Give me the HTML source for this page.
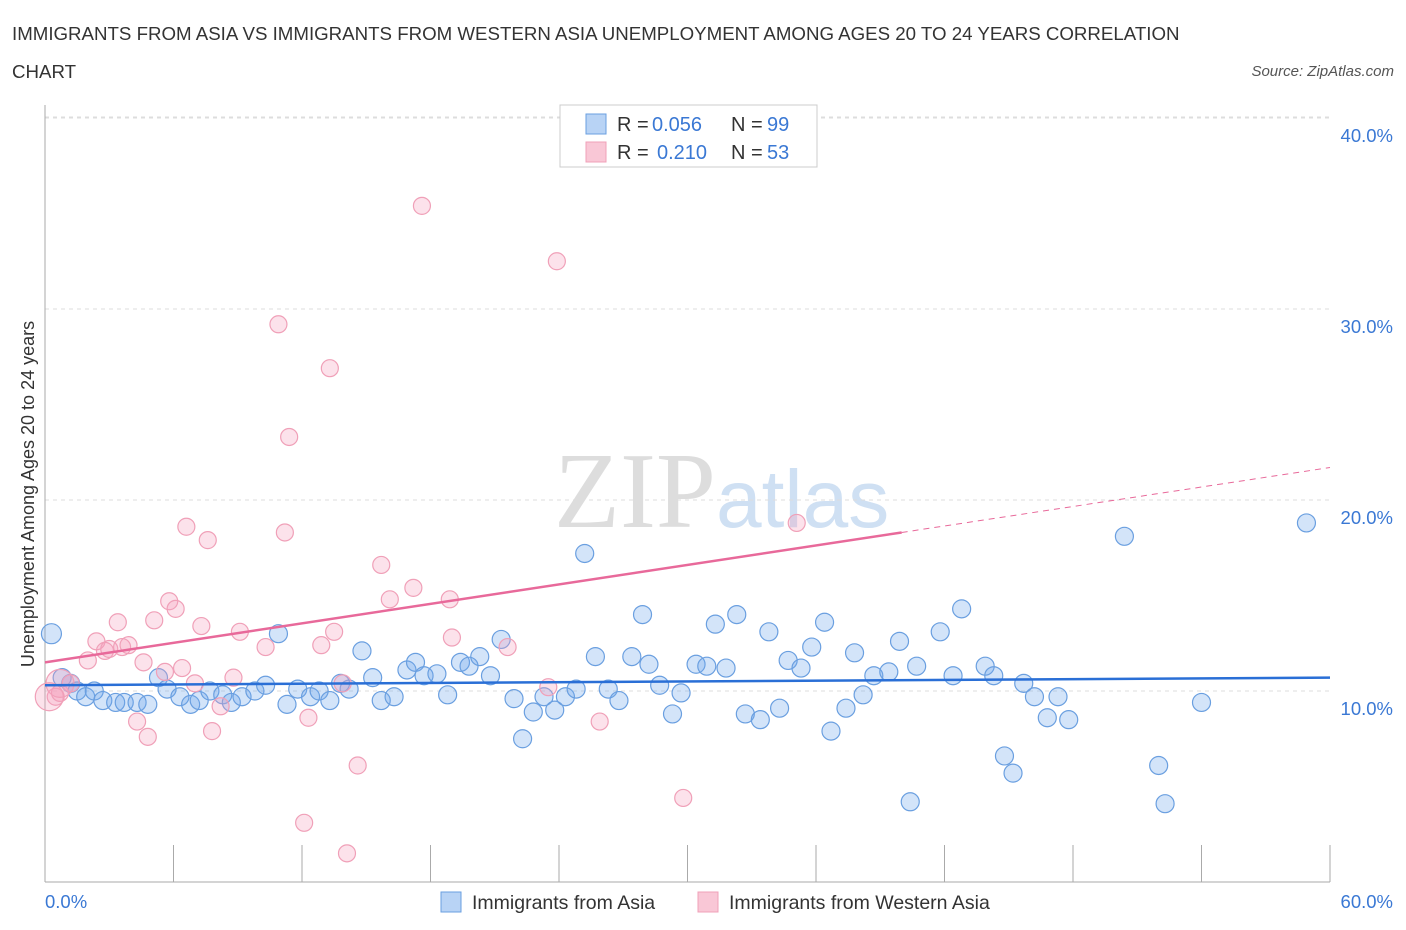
<!DOCTYPE html>
<html><head><meta charset="utf-8"><style>
body{margin:0;background:#fff;font-family:"Liberation Sans",sans-serif}
</style></head><body>
<svg width="1406" height="930" style="display:block">
<text x="12" y="40" font-size="18.7" fill="#333">IMMIGRANTS FROM ASIA VS IMMIGRANTS FROM WESTERN ASIA UNEMPLOYMENT AMONG AGES 20 TO 24 YEARS CORRELATION</text>
<text x="12" y="78" font-size="18.7" fill="#333">CHART</text>
<text x="1394" y="76" font-size="15" fill="#555" font-style="italic" text-anchor="end">Source: ZipAtlas.com</text>
<text x="716" y="527" font-size="108" fill="#ddd" text-anchor="end" font-family="Liberation Serif">ZIP</text>
<text x="716" y="527" font-size="82" fill="#cfe0f3">atlas</text>
<g id="grid"></g>
<g id="marks"></g>
<text transform="translate(34,494) rotate(-90)" font-size="18" fill="#333" text-anchor="middle">Unemployment Among Ages 20 to 24 years</text>
<text x="45" y="908" font-size="18.5" fill="#3a78d4">0.0%</text>
<text x="1393" y="908" font-size="18.5" fill="#3a78d4" text-anchor="end">60.0%</text>
<g>
<rect x="560" y="105" width="257" height="62" fill="#fff" stroke="#ccc"/>
<rect x="586" y="114" width="20" height="20" fill="#b8d3f5" stroke="#6a9fe0"/>
<rect x="586" y="142" width="20" height="20" fill="#f9c7d6" stroke="#f0a0b8"/>
<text x="617" y="131" font-size="20" fill="#333">R =</text>
<text x="652" y="131" font-size="20" fill="#3a78d4">0.056</text>
<text x="731" y="131" font-size="20" fill="#333">N =</text>
<text x="767" y="131" font-size="20" fill="#3a78d4">99</text>
<text x="617" y="159" font-size="20" fill="#333">R =</text>
<text x="657" y="159" font-size="20" fill="#3a78d4">0.210</text>
<text x="731" y="159" font-size="20" fill="#333">N =</text>
<text x="767" y="159" font-size="20" fill="#3a78d4">53</text>
</g>
<g>
<rect x="441" y="892" width="20" height="20" fill="#b8d3f5" stroke="#6a9fe0"/>
<text x="472" y="909" font-size="19.5" fill="#333">Immigrants from Asia</text>
<rect x="698" y="892" width="20" height="20" fill="#f9c7d6" stroke="#f0a0b8"/>
<text x="729" y="909" font-size="19.5" fill="#333">Immigrants from Western Asia</text>
</g>
</svg>
<script>
const yTicks=[10,20,30,40];
const xTicks=[0,6,12,18,24,30,36,42,48,54,60];
const blueX=[0.3,0.8,1.2,1.5,1.9,2.3,2.7,3.3,3.7,4.3,4.8,5.3,5.7,6.3,6.8,7.2,7.7,8.3,8.7,9.2,9.8,10.3,10.9,11.3,11.8,12.4,12.8,13.3,13.8,14.2,14.8,15.3,15.7,16.3,16.9,17.3,17.7,18.3,18.8,19.4,19.8,20.3,20.8,21.3,21.9,22.3,22.8,23.3,23.8,24.3,24.8,25.2,25.7,26.3,26.8,27.4,27.9,28.2,28.7,29.3,29.7,30.4,30.9,31.3,31.8,32.3,32.7,33.4,33.8,34.3,34.7,35.3,35.8,36.4,36.7,37.4,37.8,38.2,38.7,39.4,39.9,40.4,40.7,41.8,42.4,42.8,43.9,44.3,44.8,45.2,45.7,46.2,46.8,47.3,47.8,50.4,52.0,52.3,54.0,58.9];
const blueY=[13.0,10.7,10.4,10.0,9.7,10.0,9.5,9.4,9.4,9.4,9.3,10.7,10.1,9.7,9.3,9.5,10.0,9.8,9.4,9.7,10.0,10.3,13.0,9.3,10.1,9.7,10.0,9.5,10.4,10.1,12.1,10.7,9.5,9.7,11.1,11.5,10.8,10.9,9.8,11.5,11.3,11.8,10.8,12.7,9.6,7.5,8.9,9.7,9.0,9.7,10.1,17.2,11.8,10.1,9.5,11.8,14.0,11.4,10.3,8.8,9.9,11.4,11.3,13.5,11.2,14.0,8.8,8.5,13.1,9.1,11.6,11.2,12.3,13.6,7.9,9.1,12.0,9.8,10.8,11.0,12.6,4.2,11.3,13.1,10.8,14.3,11.3,10.8,6.6,5.7,10.4,9.7,8.6,9.7,8.5,18.1,6.1,4.1,9.4,18.8];
const pinkX=[0.5,0.7,1.2,2.0,2.4,2.8,3.0,3.4,3.6,3.9,4.3,4.6,4.8,5.1,5.6,5.8,6.1,6.4,6.6,7.0,7.3,7.6,7.8,8.2,8.8,9.1,10.3,10.9,11.2,11.4,12.3,12.9,13.3,13.5,13.9,14.1,14.6,15.7,16.1,17.2,17.6,18.9,19.0,21.6,23.5,23.9,25.9,29.8,35.1,12.1,0.7,0.2];
const pinkY=[9.7,9.9,10.4,11.6,12.6,12.1,12.2,13.6,12.3,12.4,8.4,11.5,7.6,13.7,11.0,14.7,14.3,11.2,18.6,10.4,13.4,17.9,7.9,9.2,10.7,13.1,12.3,29.2,18.3,23.3,8.6,12.4,26.9,13.1,10.4,1.5,6.1,16.6,14.8,15.4,35.4,14.8,12.8,12.3,10.2,32.5,8.4,4.4,18.8,3.1,10.4,9.7];
const blueTrend=[10.3,10.7];
const pinkTrend=[11.5,21.7];
const sx=v=>45+v/60*1285, sy=v=>882-v*19.1;
const NS='http://www.w3.org/2000/svg';
function mk(t,a,p){const e=document.createElementNS(NS,t);for(const k in a)e.setAttribute(k,a[k]);p.appendChild(e);return e;}
const g=document.getElementById('grid'), m=document.getElementById('marks');
mk('line',{x1:45,y1:117,x2:1330,y2:117,stroke:'#ddd','stroke-dasharray':'4,4'},g);
yTicks.forEach(t=>{
  const l=mk('line',{x1:45,y1:sy(t),x2:1330,y2:sy(t),stroke:'#ddd','stroke-dasharray':'4,4'},g);
  
  
  const tx=mk('text',{x:1393,y:sy(t)+24,'font-size':18.5,fill:'#3a78d4','text-anchor':'end'},g);
  tx.textContent=t.toFixed(1)+'%';
  
  
});
mk('line',{x1:45,y1:105,x2:45,y2:882,stroke:'#aaa'},g);
mk('line',{x1:45,y1:882,x2:1330,y2:882,stroke:'#aaa'},g);
xTicks.forEach(t=>{
  const l=mk('line',{x1:sx(t),y1:845,x2:sx(t),y2:882,stroke:'#aaa'},g);
  
  
});
blueX.forEach((x,i)=>{
  const r=i==0?10:9;
  const c=mk('circle',{cx:sx(x),cy:sy(blueY[i]),r:r,fill:'rgba(110,165,235,0.3)',stroke:'#6a9fe0','stroke-width':1.2},m);
  
  
});
pinkX.forEach((x,i)=>{
  const r=i>=50?14:8.5;
  const c=mk('circle',{cx:sx(x),cy:sy(pinkY[i]),r:r,fill:'rgba(245,160,190,0.3)',stroke:'#f0a0b8','stroke-width':1.2},m);
  
  
});
const bl=mk('line',{x1:sx(0),y1:sy(blueTrend[0]),x2:sx(60),y2:sy(blueTrend[1]),stroke:'#2a6fd6','stroke-width':2.5},m);


const pv=x=>pinkTrend[0]+(pinkTrend[1]-pinkTrend[0])*x/60;
const pl=mk('line',{x1:sx(0),y1:sy(pv(0)),x2:sx(40),y2:sy(pv(40)),stroke:'#e8699a','stroke-width':2.5},m);


const pd=mk('line',{x1:sx(40),y1:sy(pv(40)),x2:sx(60),y2:sy(pv(60)),stroke:'#e8699a','stroke-width':1,'stroke-dasharray':'6,5'},m);


</script>
</body></html>
